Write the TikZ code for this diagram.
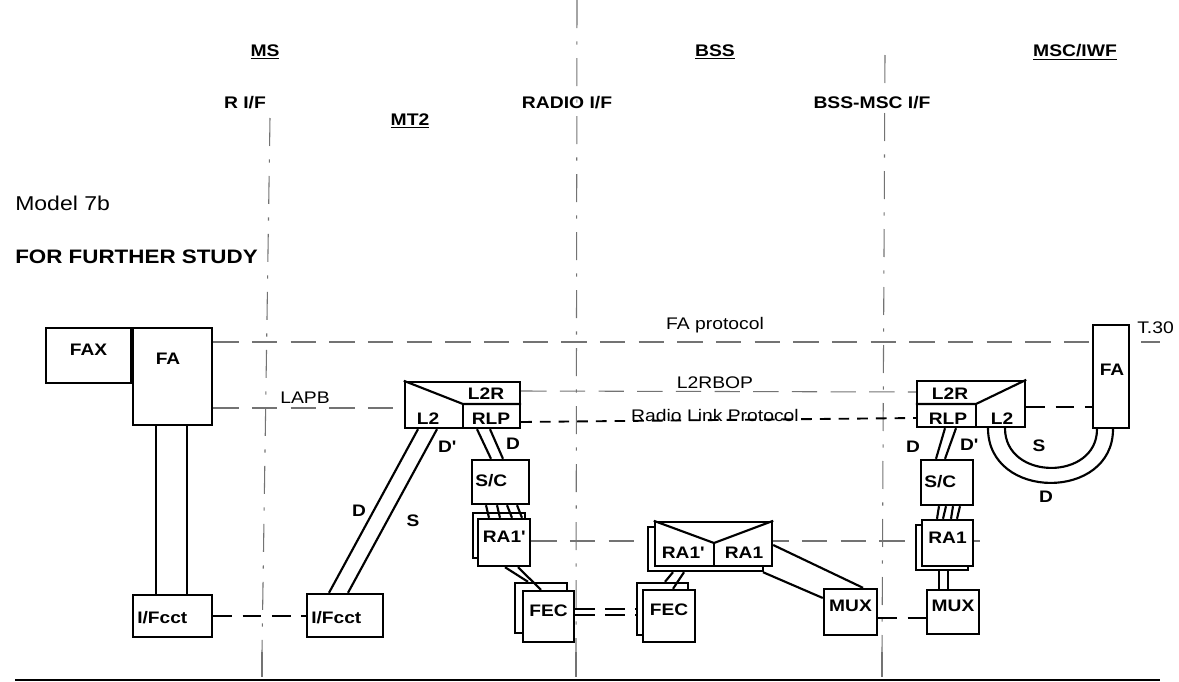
\documentclass[tikz,border=0pt]{standalone}
\usepackage{fontspec}
\setmainfont{Liberation Sans}[FakeStretch=1.15]
\usetikzlibrary{fit}
\pgfdeclarelayer{bg}
\pgfsetlayers{bg,main}
\definecolor{guide}{RGB}{115,115,115}
\newcommand{\pr}{\textquotesingle}
\begin{document}
\begin{tikzpicture}[x=0.75pt,y=-0.75pt,
  box/.style={draw, line width=1.8pt, fill=white, inner sep=0pt, font=\fontsize{12.5}{14}\selectfont\bfseries},
  lbl/.style={inner sep=0pt, font=\fontsize{12.5}{14}\selectfont\bfseries},
  head/.style={inner sep=0pt, font=\fontsize{12.6}{14}\selectfont\bfseries},
  proto/.style={inner sep=0pt, font=\fontsize{12.6}{14}\selectfont},
  link/.style={line width=1.6pt},
  inner/.style={line width=1.6pt},
  guideline/.style={draw=guide, line width=0.8pt, dash pattern=on 19pt off 10pt},
  ifline/.style={draw=guide, line width=0.8pt, dash pattern=on 21pt off 10pt on 2.5pt off 10pt},
  heavydash/.style={line width=2.2pt, dash pattern=on 14pt off 8pt},
  fecdash/.style={line width=2pt, dash pattern=on 15pt off 7.5pt},
  rlpdash/.style={line width=1.4pt, dash pattern=on 8pt off 6pt},
]
\useasboundingbox (0,0) rectangle (1179,682);

% ---- headings
\node[head] (hms) at (265,52) {\underline{MS}};
\node[head] (hbss) at (715,52) {\underline{BSS}};
\node[head] (hmsc) at (1075,52) {\underline{MSC/IWF}};
\node[head] (hrif) at (245,103) {R I/F};
\node[head] (hmt2) at (410,121) {\underline{MT2}};
\node[head] (hradio) at (567,103) {RADIO I/F};
\node[head] (hbssmsc) at (872,103) {BSS-MSC I/F};
\node[proto, anchor=west, font=\fontsize{15}{17}\selectfont] (model) at (15,203) {Model 7b};
\node[head, anchor=west, font=\fontsize{14.6}{17}\selectfont\bfseries] (ffs) at (15,257) {FOR FURTHER STUDY};

% ---- boxes
\node[box, fit={(46,328)(131,383)}] (fax) {FAX};
\node[box, fit={(133,328)(212,425)}] (fa1) {};
\node[lbl] (fa1t) at (168,359) {FA};
\node[box, fit={(133,595)(212,637)}] (if1) {};
\node[lbl, anchor=west] (if1t) at (137,618) {I/Fcct};
\node[box, fit={(307,594)(383,637)}] (if2) {};
\node[lbl, anchor=west] (if2t) at (311,618) {I/Fcct};

\node[box, fit={(405,382)(520,428)}] (l2rL) {};
\node[box, fit={(472,460)(529,504)}] (scL) {};
\node[lbl, anchor=west] (scLt) at (475,481) {S/C};
\node[box, fit={(473,513)(525,558)}] (raLb) {};
\node[box, fit={(478,519)(530,566)}] (raL) {RA1\pr};
\node[box, fit={(515,583)(567,633)}] (fecLb) {};
\node[box, fit={(523,591)(574,642)}] (fecL) {FEC};
\node[box, fit={(637,583)(688,635)}] (fecRb) {};
\node[box, fit={(643,590)(695,642)}] (fecR) {FEC};
\node[box, fit={(648,527)(763,571)}] (raMb) {};
\node[box, fit={(655,522)(772,566)}] (raM) {};
\node[box, fit={(824,589)(877,635)}] (muxL) {MUX};
\node[box, fit={(927,590)(979,634)}] (muxR) {MUX};
\node[box, fit={(916,525)(968,570)}] (raRb) {};
\node[box, fit={(922,520)(973,566)}] (raR) {RA1};
\node[box, fit={(921,460)(973,505)}] (scR) {};
\node[lbl, anchor=west] (scRt) at (924,482) {S/C};
\node[box, fit={(917,381)(1025,427)}] (l2rR) {};
\node[box, fit={(1093,325)(1129,428)}] (fa2) {};
\node[lbl] (fa2t) at (1112,370) {FA};

% ---- box internals
\draw[inner] (l2rL.north west) -- (463,404) -- (l2rL.east |- 0,404);
\draw[inner] (463,404) -- (463,0 |- l2rL.south);
\node[lbl] (l2rLa) at (486,394) {L2R};
\node[lbl] (l2rLb) at (491,419) {RLP};
\node[lbl] (l2rLc) at (428,419) {L2};

\draw[inner] (l2rR.north east) -- (976,404) -- (l2rR.west |- 0,404);
\draw[inner] (976,404) -- (976,0 |- l2rR.south);
\node[lbl] (l2rRa) at (950,394) {L2R};
\node[lbl] (l2rRb) at (948,419) {RLP};
\node[lbl] (l2rRc) at (1002,419) {L2};

\draw[inner] (raM.north west) -- (714,543) -- (raM.north east);
\draw[inner] (714,543) -- (714,0 |- raM.south);
\node[lbl] (raMa) at (683,553) {RA1\pr};
\node[lbl] (raMc) at (744,553) {RA1};

% ---- connectors
\draw[link] (156,0 |- fa1.south) -- (156,0 |- if1.north);
\draw[link] (187,0 |- fa1.south) -- (187,0 |- if1.north);
\draw[link] (329,0 |- if2.north) -- (418,0 |- l2rL.south);
\draw[link] (348,0 |- if2.north) -- (437,0 |- l2rL.south);
\draw[link] (477,0 |- l2rL.south) -- (491,0 |- scL.north);
\draw[link] (490,0 |- l2rL.south) -- (503,0 |- scL.north);
\foreach \a/\b in {486/489,497/500,507/512,517/522}
  \draw[link] (\a,0 |- scL.south) -- (\b,0 |- raL.north);
\draw[link] (505,0 |- raL.south) -- (528,0 |- fecLb.north);
\draw[link] (518,0 |- raL.south) -- (541,0 |- fecL.north);
\draw[link] (673,0 |- raMb.south) -- (665,0 |- fecRb.north);
\draw[link] (684,0 |- raMb.south) -- (673,0 |- fecR.north);
\draw[link] (raM.east |- 0,545) -- (863,0 |- muxL.north);
\draw[link] (763,0 |- raMb.south) -- (muxL.west |- 0,598);
\foreach \a/\b in {939/937,946/943,953/951,960/957}
  \draw[link] (\a,0 |- scR.south) -- (\b,0 |- raR.north);
\draw[link] (939,0 |- raRb.south) -- (939,0 |- muxR.north);
\draw[link] (948,0 |- raRb.south) -- (948,0 |- muxR.north);
\draw[link] (945,0 |- l2rR.south) -- (936,0 |- scR.north);
\draw[link] (956,0 |- l2rR.south) -- (945,0 |- scR.north);
\draw[link] (988,0 |- l2rR.south) .. controls (988,501) and (1113,501) .. (1113,0 |- fa2.south);
\draw[link] (1005,0 |- l2rR.south) .. controls (1005,481) and (1097,481) .. (1097,0 |- fa2.south);

% ---- connector labels
\node[lbl] (dA) at (359,511) {D};
\node[lbl] (sA) at (413,521) {S};
\node[lbl] (dpA) at (447,447) {D\pr};
\node[lbl] (dB) at (513,444) {D};
\node[lbl] (dC) at (913,447) {D};
\node[lbl] (dpC) at (969,445) {D\pr};
\node[lbl] (sD) at (1039,446) {S};
\node[lbl] (dD) at (1046,497) {D};

% ---- protocol labels
\node[proto] (pfa) at (715,325) {FA protocol};
\node[proto] (pl2r) at (715,383) {L2RBOP};
\node[proto] (prlp) at (715,415) {Radio Link Protocol};
\node[proto] (plapb) at (305,398) {LAPB};
\node[proto, anchor=west] (pt30) at (1137,328) {T.30};

% ---- background guide lines
\coordinate (t30end) at (1160,342);
\coordinate (raend) at (980,541);
\begin{pgfonlayer}{bg}
\draw[ifline] (270,118) -- (262,652);
\draw[ifline] (577,0) -- (576,652);
\draw[ifline] (885,55) -- (882,652);
\draw[guide, line width=0.8pt] (262,652) -- (262,677);
\draw[guide, line width=0.8pt] (576,652) -- (576,677);
\draw[guide, line width=0.8pt] (882,652) -- (882,677);
\draw[line width=1.5pt] (15,680) -- (1160,680);

\draw[guideline] (fa1.east |- 0,342) -- (t30end);
\draw[guideline] (fa1.east |- 0,408) -- (l2rL.west |- 0,408);
\draw[guideline] (l2rL.east |- 0,391) -- (l2rR.west |- 0,392);
\draw[rlpdash] (l2rL.east |- 0,422) -- (l2rR.west |- 0,418);
\draw[heavydash] (l2rR.east |- 0,407) -- (fa2.west |- 0,407);
\draw[guideline] (raL.east |- 0,541) -- (raend);
\draw[heavydash] (if1.east |- 0,616) -- (if2.west |- 0,616);
\draw[fecdash] (fecL.east |- 0,609) -- (fecRb.west |- 0,609);
\draw[fecdash] (fecL.east |- 0,615) -- (fecRb.west |- 0,615);
\draw[heavydash] (muxL.east |- 0,618) -- (muxR.west |- 0,618);
\end{pgfonlayer}
\end{tikzpicture}
\end{document}
